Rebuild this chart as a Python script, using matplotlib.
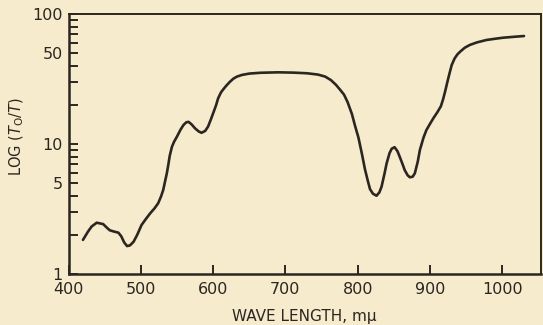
import matplotlib
matplotlib.use("Agg")
import matplotlib.pyplot as plt
from matplotlib.ticker import FixedLocator, NullFormatter

# ---- data ----
wavelength = [420, 427, 432, 439, 448, 452, 457, 463, 469, 473, 477, 481, 485, 490,
              495, 501, 507, 513, 519, 524, 528, 531, 534, 536, 538, 540, 543, 546,
              550, 555, 559, 563, 566, 570, 575, 580, 584, 589, 593, 597, 600, 604,
              607, 611, 614, 618, 623, 628, 633, 640, 650, 665, 690, 711, 730, 745,
              755, 763, 770, 776, 781, 786, 792, 796, 801, 806, 810, 814, 817, 821,
              826, 830, 833, 837, 840, 844, 847, 851, 855, 858, 862, 865, 869, 872,
              876, 879, 883, 886, 891, 895, 900, 905, 910, 915, 918, 921, 924, 927,
              930, 934, 938, 942, 948, 955, 965, 978, 990, 1001, 1015, 1030]
log_t0_t = [1.83, 2.12, 2.32, 2.48, 2.42, 2.30, 2.17, 2.12, 2.08, 1.95, 1.75, 1.64, 1.66, 1.77,
            2.00, 2.38, 2.65, 2.93, 3.20, 3.50, 3.95, 4.43, 5.30, 5.95, 6.90, 8.10, 9.50, 10.4,
            11.4, 12.9, 14.0, 14.7, 14.8, 14.2, 13.2, 12.5, 12.2, 12.6, 13.6, 15.5, 17.2, 19.8,
            22.5, 25.0, 26.3, 28.0, 30.0, 31.8, 33.0, 34.0, 34.8, 35.3, 35.6, 35.4, 35.0, 34.2,
            33.0, 31.0, 28.5, 26.0, 24.0, 21.0, 17.0, 14.0, 11.2, 8.3, 6.4, 5.2, 4.5, 4.15,
            4.0, 4.25, 4.7, 5.9, 7.1, 8.5, 9.2, 9.45, 8.8, 8.0, 7.0, 6.3, 5.75, 5.55,
            5.6, 5.95, 7.3, 9.0, 11.2, 12.8, 14.3, 15.9, 17.5, 19.5, 22.0, 25.5, 30.0, 35.0,
            40.5, 45.5, 49.0, 51.5, 55.0, 57.8, 60.5, 63.1, 64.5, 65.7, 66.7, 67.7]

x_ticks = [400, 500, 600, 700, 800, 900, 1000]
x_tick_labels = ["400", "500", "600", "700", "800", "900", "1000"]
y_major = [1, 5, 10, 50, 100]
y_major_labels = ["1", "5", "10", "50", "100"]
y_minor = [2, 3, 4, 6, 7, 8, 9, 20, 30, 40, 60, 70, 80, 90]

bg = "#f7ebcd"
ink = "#2b2621"

W, H = 543, 325
fig = plt.figure(figsize=(W / 100, H / 100), dpi=100, facecolor=bg)
left, right, top, bottom = 68.5, 541, 14, 274
ax = fig.add_axes([left / W, 1 - bottom / H, (right - left) / W, (bottom - top) / H])
ax.set_facecolor(bg)

ax.plot(wavelength, log_t0_t, color=ink, lw=1.9, solid_capstyle="round", solid_joinstyle="round")

ax.set_yscale("log")
ax.set_xlim(400, 1053.5)
ax.set_ylim(1, 100)

ax.xaxis.set_major_locator(FixedLocator(x_ticks))
ax.set_xticklabels(x_tick_labels)
ax.yaxis.set_major_locator(FixedLocator(y_major))
ax.set_yticklabels(y_major_labels)
ax.yaxis.set_minor_locator(FixedLocator(y_minor))
ax.yaxis.set_minor_formatter(NullFormatter())
ax.xaxis.set_minor_locator(FixedLocator([]))

ax.tick_params(axis="both", which="both", direction="in", color=ink, width=1.4,
               length=6.5, labelsize=11.5, labelcolor=ink)
ax.tick_params(axis="x", pad=6)
ax.tick_params(axis="y", pad=4)

for s in ax.spines.values():
    s.set_color(ink)
    s.set_linewidth(1.4)
ax.spines["left"].set_linewidth(1.8)
ax.spines["bottom"].set_linewidth(1.8)

fig.text(304.7 / W, 1 - 320.5 / H, "WAVE LENGTH, m\u03bc", ha="center", va="baseline",
         fontsize=11, color=ink)
fig.text(17 / W, 1 - 136.5 / H, r"LOG ($T_{\rm O}/T$)", ha="center", va="center",
         rotation=90, fontsize=10.5, color=ink)

fig.savefig("out.png", dpi=100, facecolor=bg)
